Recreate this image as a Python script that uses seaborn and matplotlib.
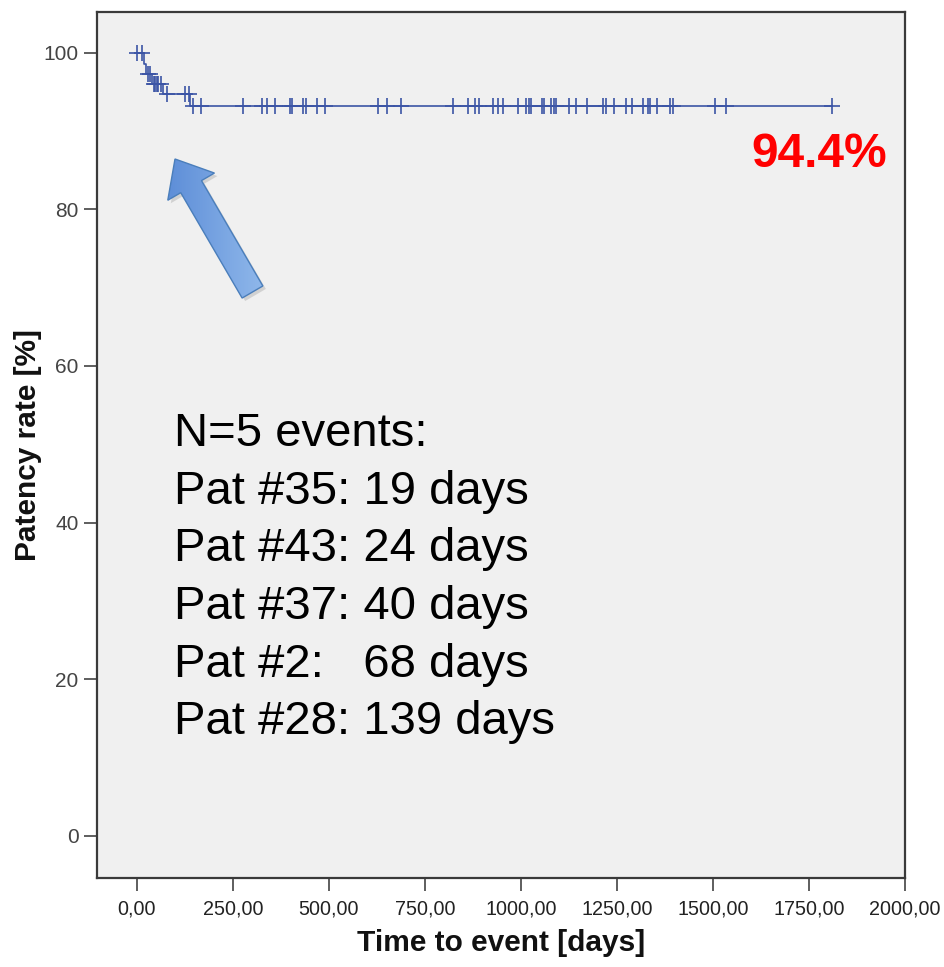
import numpy as np
import pandas as pd
import matplotlib
matplotlib.use("Agg")
import matplotlib.pyplot as plt
import seaborn as sns
from matplotlib.patches import FancyArrow
from matplotlib.colors import LinearSegmentedColormap

# ---------------- data ----------------
event_days = [19, 24, 40, 68, 139]
survival_after_event = [98.6, 97.3, 96.0, 94.7, 93.2]
censor_days = [1, 14, 29, 33, 44, 48, 52, 56, 62, 77, 125, 136,
               146, 168, 276, 325, 339, 359, 399, 404, 433, 441, 469, 490,
               628, 651, 688, 822, 863, 881, 892, 928, 941, 954, 992, 1013,
               1022, 1027, 1055, 1059, 1079, 1085, 1090, 1126, 1144, 1172,
               1213, 1222, 1241, 1273, 1290, 1319, 1331, 1335, 1353, 1387,
               1396, 1505, 1535, 1810]
x_ticks = [0, 250, 500, 750, 1000, 1250, 1500, 1750, 2000]
x_tick_labels = ["0,00", "250,00", "500,00", "750,00", "1000,00",
                 "1250,00", "1500,00", "1750,00", "2000,00"]
y_ticks = [0, 20, 40, 60, 80, 100]
y_tick_labels = ["0", "20", "40", "60", "80", "100"]
annotation_lines = ["N=5 events:", "Pat #35: 19 days", "Pat #43: 24 days",
                    "Pat #37: 40 days", "Pat #2:   68 days", "Pat #28: 139 days"]
final_label = "94.4%"
x_label = "Time to event [days]"
y_label = "Patency rate [%]"

# ---------------- style ----------------
sns.set_theme(style="white")
plt.rcParams["font.family"] = ["Liberation Sans", "DejaVu Sans"]

W, H = 945, 967
BLUE = "#3B54A5"

fig = plt.figure(figsize=(W / 100, H / 100), dpi=100)
fig.patch.set_facecolor("white")
L, R, T, B = 97, 905, 12, 878
ax = fig.add_axes([L / W, 1 - B / H, (R - L) / W, (B - T) / H])
ax.set_facecolor("#F0F0F0")

# step curve
levels = [100.0] + survival_after_event
step_df = pd.DataFrame({
    "days": [0] + event_days + [censor_days[-1]],
    "rate": levels + [levels[-1]],
})
sns.lineplot(data=step_df, x="days", y="rate", drawstyle="steps-post",
             estimator=None, sort=False, color=BLUE, linewidth=1.2, ax=ax)

# censor marks
idx = np.searchsorted(np.array(event_days), np.array(censor_days), side="right")
cens_df = pd.DataFrame({"days": censor_days,
                        "rate": [levels[i] for i in idx]})
sns.scatterplot(data=cens_df, x="days", y="rate", marker="+", s=130,
                color=BLUE, linewidth=1.2, ax=ax, zorder=3)

ax.set_xlim(-104, 2000)
ax.set_ylim(-5.4, 105.2)
ax.set_xticks(x_ticks)
ax.set_xticklabels(x_tick_labels, family=["Liberation Sans Narrow", "Liberation Sans"],
                   fontsize=14.2, color="#222222")
ax.set_yticks(y_ticks)
ax.set_yticklabels(y_tick_labels, fontsize=15, color="#444444")
ax.tick_params(axis="both", direction="out", length=9.4, width=1.1,
               color="#333333", bottom=True, left=True)
ax.tick_params(axis="x", pad=6)
ax.tick_params(axis="y", pad=4)
for s in ax.spines.values():
    s.set_color("#3a3a3a")
    s.set_linewidth(1.6)

ax.set_xlabel(x_label, fontsize=21.5, fontweight="bold", color="#111111")
ax.set_ylabel(y_label, fontsize=21.5, fontweight="bold", color="#111111")
ax.xaxis.set_label_coords(0.5, (B - 929) / (B - T))
ax.yaxis.set_label_coords((42 - L) / (R - L), 0.5)


def fx(px):
    return px / W


def fy(py):
    return 1 - py / H


# annotation text
for i, line in enumerate(annotation_lines):
    fig.text(fx(174), fy(446 + i * 57.7), line, fontsize=34,
             color="black", ha="left", va="baseline")

fig.text(fx(751), fy(167), final_label, fontsize=34.5, fontweight="bold",
         color="#FF0000", ha="left", va="baseline")

# overlay axes in pixel coordinates for the block arrow
ov = fig.add_axes([0, 0, 1, 1], facecolor="none")
ov.set_xlim(0, W)
ov.set_ylim(0, H)
ov.axis("off")

x0, y0 = 252.5, H - 292
x1, y1 = 175, H - 159
shadow = FancyArrow(x0 + 3, y0 - 3, x1 - x0, y1 - y0, width=24, head_width=54,
                    head_length=32, length_includes_head=True,
                    facecolor="#999999", edgecolor="none", alpha=0.35)
ov.add_patch(shadow)
arrow = FancyArrow(x0, y0, x1 - x0, y1 - y0, width=24, head_width=54,
                   head_length=32, length_includes_head=True,
                   facecolor="none", edgecolor="#4A7EBB", linewidth=1.0,
                   zorder=5)
ov.add_patch(arrow)
cmap = LinearSegmentedColormap.from_list("g", ["#4F82D2", "#9DC3F0"])
grad = np.linspace(0, 1, 200).reshape(1, -1)
im = ov.imshow(grad, cmap=cmap, extent=(140, 290, H - 310, H - 150),
               aspect="auto", zorder=4, origin="lower")
im.set_clip_path(arrow)

fig.savefig("out.png", dpi=100)
